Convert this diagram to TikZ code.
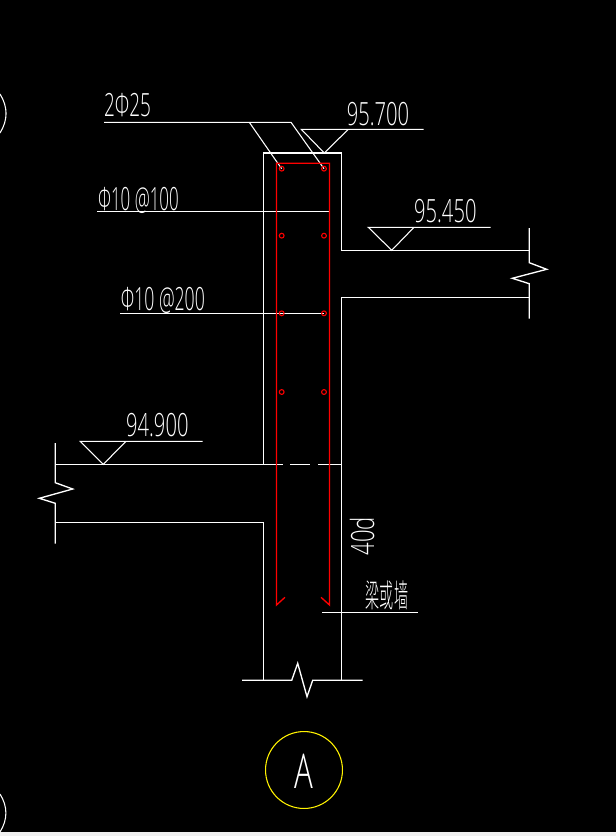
\documentclass[tikz,border=0pt]{standalone}
\usepackage{fontspec}
\usepackage{tikz}
\setmainfont{Open Sans Light}
\newfontfamily\cjkfont{Noto Sans CJK SC Light}
\definecolor{rebarred}{RGB}{255,0,0}
\definecolor{stripgray}{RGB}{240,240,240}
\tikzset{
	outline/.style={white, line width=1pt},
	thinline/.style={white, line width=0.8pt},
	rebar/.style={rebarred, line width=1pt},
	rebardot/.style={rebarred, line width=0.8pt},
	cadtext/.style={white, inner sep=0pt, anchor=base west, transform shape, xscale=0.63, font=\fontsize{24}{24}\selectfont},
	cadrot/.style={white, inner sep=0pt, anchor=base west, transform shape, rotate=90, xscale=0.69, font=\fontsize{24}{24}\selectfont},
}
\begin{document}
\begin{tikzpicture}[x=0.75pt, y=-0.75pt]
				\useasboundingbox (0,0) rectangle (616,836);
				\fill[black] (0,0) rectangle (616,836);
				\fill[stripgray] (0,832) rectangle (616,836);

				%Nodes
				\coordinate      (tl) 	at 	(263.5,153);
				\coordinate      (tr) 	at 	(341.5,153);
				\coordinate      (rt) 	at 	(341.5,250.3);
				\coordinate      (rb) 	at 	(341.5,297.3);
				\coordinate      (rbt) 	at 	(529.3,250.3);
				\coordinate      (rbb) 	at 	(529.3,297.3);
				\coordinate      (lt) 	at 	(263.5,464.3);
				\coordinate      (lb) 	at 	(263.5,522.3);
				\coordinate      (lbt) 	at 	(55.3,464.3);
				\coordinate      (lbb) 	at 	(55.3,522.3);
				\coordinate      (bl) 	at 	(263.5,680.3);
				\coordinate      (br) 	at 	(341.5,680.3);
				\coordinate      (barl) 	at 	(276.5,163.3);
				\coordinate      (barr) 	at 	(329.5,163.3);
				\coordinate      (endl) 	at 	(276.5,605);
				\coordinate      (endr) 	at 	(329.5,605);
				\coordinate      (d1) 	at 	(281.7,168.7);
				\coordinate      (d2) 	at 	(324,168.7);
				\coordinate      (d3) 	at 	(281.7,235.7);
				\coordinate      (d4) 	at 	(324,235.7);
				\coordinate      (d5) 	at 	(281.7,313.3);
				\coordinate      (d6) 	at 	(324,313.3);
				\coordinate      (d7) 	at 	(281.7,392);
				\coordinate      (d8) 	at 	(324,392);

				%Concrete
				\draw[outline] (lt) -- (tl) -- (tr) -- (rt) -- (rbt);
				\draw[outline] (rbb) -- (rb) -- (br);
				\draw[outline] (lbb) -- (lb) -- (bl);
				\draw[outline] (lbt) -- (282.7,464.3);
				\draw[outline] (290,464.3) -- (310,464.3);
				\draw[outline] (318,464.3) -- (341.5,464.3);

				%Breaks
				\draw[outline] (529.3,228) -- (529.3,262.7) -- (546.7,269.3) -- (512.3,278.3) -- (529.3,283.7) -- (529.3,318.7);
				\draw[outline] (55.3,443) -- (55.3,482.7) -- (72.7,489) -- (39.3,498.3) -- (55.3,503.3) -- (55.3,543.7);
				\draw[outline] (242,680.3) -- (291.7,680.3) -- (297.7,663.3) -- (307,696.7) -- (312.7,680.3) -- (362.7,680.3);

				%Leaders
				\draw[thinline] (104,122.3) -- (291,122.3) -- (d2);
				\draw[thinline] (249.3,122.3) -- (276.7,161.7) -- (d1);
				\draw[outline] (97.3,211.3) -- (330,211.3);
				\draw[outline] (120,313.3) -- (d6);
				\draw[outline] (322,612.3) -- (418,612.3);

				%Rebar
				\draw[rebar] (285,597.3) -- (endl) -- (barl) -- (barr) -- (endr) -- (321,597.3);
				\foreach \d in {d1,d2,d3,d4,d5,d6,d7,d8}
					\draw[rebardot] (\d) circle (2.4);

				%Levels
				\draw[thinline] (423.7,129.3) -- (301.3,129.3) -- (324.3,153) -- (348.3,129.3);
				\draw[thinline] (490.7,227.3) -- (368.3,227.3) -- (391.7,250.3) -- (414,227.3);
				\draw[thinline] (202.7,441.3) -- (80.3,441.3) -- (103.3,464.3) -- (126,441.3);

				%Texts
				\node[cadtext, xscale=0.94] (bars) at (104,116) {2Φ25};
				\node[cadtext] (top) at (346.7,125) {95.700};
				\node[cadtext, xscale=0.84] (stir) at (98,210) {Φ10 @100};
				\node[cadtext, xscale=0.875] (tie) at (120.7,310) {Φ10 @200};
				\node[cadtext] (right) at (414,222.3) {95.450};
				\node[cadtext] (left) at (126,436) {94.900};
				\node[cadrot] (anchor) at (374,555.7) {40d};
				\node[white, inner sep=0pt, transform shape, xscale=0.44, font=\cjkfont\fontsize{24}{24}\selectfont] (wall) at (387,595) {梁或墙};

				%Circles
				\node[draw=yellow, line width=0.8pt, circle, minimum size=57.7pt, inner sep=0pt] (axis) at (304,770) {};
				\node[white, inner sep=0pt, anchor=base, transform shape, xscale=0.65, font=\fontsize{36}{36}\selectfont] (axislabel) at (304,788) {A};
				\draw[thinline] (0,94) to[bend left=32] (0,133);
				\draw[thinline] (0,794) to[bend left=32] (0,832);
			\end{tikzpicture}
\end{document}
